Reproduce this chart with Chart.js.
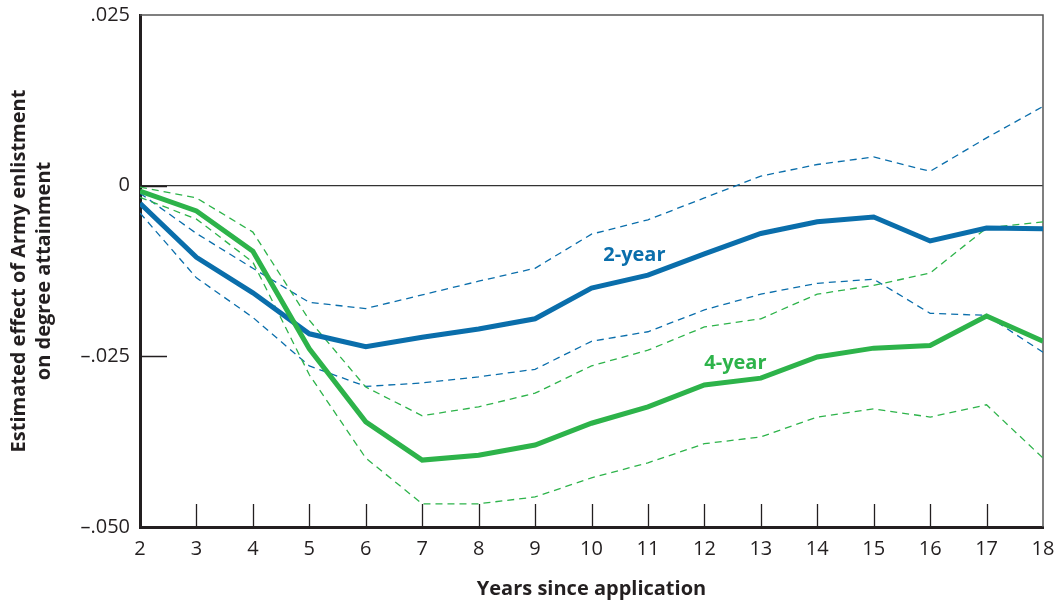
<!DOCTYPE html>
<html>
<head>
<meta charset="utf-8">
<script src="https://cdn.jsdelivr.net/npm/chart.js@4/dist/chart.umd.min.js"></script>
<style>
  html, body { margin: 0; padding: 0; background: #fff; }
  #wrap { width: 1056px; height: 601px; position: relative; }
</style>
</head>
<body>
<div id="wrap"><canvas id="chart"></canvas></div>
<script>
// years since application
const years = [2, 3, 4, 5, 6, 7, 8, 9, 10, 11, 12, 13, 14, 15, 16, 17, 18];

// 2-year degree: estimate and confidence band
const twoYear      = [-0.0026, -0.0105, -0.0157, -0.0217, -0.0236, -0.0222, -0.0210, -0.0195, -0.0150, -0.0131, -0.0100, -0.0070, -0.0053, -0.0046, -0.0081, -0.0062, -0.0063];
const twoYearUpper = [-0.0011, -0.0070, -0.0121, -0.0171, -0.0180, -0.0160, -0.0140, -0.0121, -0.0071, -0.0050, -0.0018, 0.0014, 0.0031, 0.0042, 0.0021, 0.0070, 0.0116];
const twoYearLower = [-0.0040, -0.0135, -0.0193, -0.0264, -0.0294, -0.0289, -0.0280, -0.0269, -0.0228, -0.0214, -0.0182, -0.0159, -0.0143, -0.0137, -0.0187, -0.0190, -0.0244];

// 4-year degree: estimate and confidence band
const fourYear      = [-0.0008, -0.0037, -0.0096, -0.0239, -0.0346, -0.0402, -0.0395, -0.0380, -0.0348, -0.0324, -0.0292, -0.0282, -0.0251, -0.0238, -0.0234, -0.0191, -0.0228];
const fourYearUpper = [-0.0002, -0.0018, -0.0068, -0.0197, -0.0295, -0.0337, -0.0324, -0.0304, -0.0264, -0.0241, -0.0207, -0.0195, -0.0159, -0.0146, -0.0128, -0.0062, -0.0053];
const fourYearLower = [-0.0017, -0.0049, -0.0112, -0.0277, -0.0399, -0.0466, -0.0466, -0.0456, -0.0428, -0.0406, -0.0378, -0.0368, -0.0339, -0.0327, -0.0339, -0.0321, -0.0399];

// y axis ticks
const yTickValues = [-0.05, -0.025, 0, 0.025];
const yTickLabels = ['–.050', '–.025', '0', '.025'];

// series labels placed on the plot (x in years, y in effect units)
const seriesLabels = [
  { text: '2-year', x: 10.76, y: -0.0102, color: '#0a6eab' },
  { text: '4-year', x: 12.55, y: -0.0260, color: '#2db34a' }
];

const BLUE = '#0a6eab';
const GREEN = '#2db34a';
const INK = '#231f20';

const pts = arr => arr.map((v, i) => ({ x: years[i], y: v }));

const mainLine = (label, data, color) => ({
  label, data: pts(data), borderColor: color, borderWidth: 5,
  pointRadius: 0, tension: 0, order: 0, borderJoinStyle: 'miter'
});
const bandLine = (label, data, color) => ({
  label, data: pts(data), borderColor: color, borderWidth: 1.3,
  borderDash: [7, 5], pointRadius: 0, tension: 0, order: 1
});

// keep the plot box fixed: no extra room for overhanging tick labels
const noOverhang = s => {
  s.paddingLeft = 0; s.paddingRight = 0; s.paddingTop = 0; s.paddingBottom = 0;
};

// inward tick marks, frame and in-plot series labels
const decorations = {
  id: 'decorations',
  beforeDatasetsDraw(chart) {
    const { ctx, chartArea: a, scales: { x, y } } = chart;
    ctx.save();
    ctx.strokeStyle = '#555';
    ctx.lineWidth = 1.5;
    ctx.beginPath();
    ctx.moveTo(a.left, a.top);
    ctx.lineTo(a.right, a.top);
    ctx.lineTo(a.right, a.bottom);
    ctx.stroke();

    ctx.strokeStyle = INK;
    ctx.lineWidth = 1.3;
    ctx.beginPath();
    years.slice(1, -1).forEach(yr => {
      const px = Math.round(x.getPixelForValue(yr)) + 0.5;
      ctx.moveTo(px, a.bottom);
      ctx.lineTo(px, a.bottom - 23);
    });
    yTickValues.slice(1, -1).forEach(v => {
      const py = Math.round(y.getPixelForValue(v)) + 0.5;
      ctx.moveTo(a.left, py);
      ctx.lineTo(a.left + 27, py);
    });
    ctx.stroke();
    ctx.restore();
  },
  afterDatasetsDraw(chart) {
    const { ctx, scales: { x, y } } = chart;
    ctx.save();
    ctx.font = 'bold 20px "Open Sans"';
    ctx.textAlign = 'center';
    ctx.textBaseline = 'middle';
    seriesLabels.forEach(l => {
      ctx.fillStyle = l.color;
      ctx.fillText(l.text, x.getPixelForValue(l.x), y.getPixelForValue(l.y));
    });
    ctx.restore();
  }
};

new Chart(document.getElementById('chart'), {
  type: 'line',
  data: {
    datasets: [
      mainLine('4-year', fourYear, GREEN),
      mainLine('2-year', twoYear, BLUE),
      bandLine('4-year upper', fourYearUpper, GREEN),
      bandLine('4-year lower', fourYearLower, GREEN),
      bandLine('2-year upper', twoYearUpper, BLUE),
      bandLine('2-year lower', twoYearLower, BLUE)
    ]
  },
  options: {
    responsive: true,
    maintainAspectRatio: false,
    animation: false,
    layout: { padding: { top: 15, right: 13, left: 0, bottom: 0 } },
    plugins: {
      legend: { display: false },
      tooltip: { enabled: false }
    },
    scales: {
      x: {
        type: 'linear',
        min: 2,
        max: 18,
        afterFit: s => { s.height = 74; noOverhang(s); },
        ticks: {
          stepSize: 1,
          padding: 10,
          color: INK,
          font: { family: 'Open Sans', size: 20 },
          maxRotation: 0
        },
        grid: { display: false, drawTicks: false },
        border: { color: INK, width: 3 },
        title: {
          display: true,
          text: 'Years since application',
          color: INK,
          font: { family: 'Open Sans', size: 20, weight: 'bold', lineHeight: 1.2 },
          padding: { top: 0, bottom: 0 }
        }
      },
      y: {
        min: -0.05,
        max: 0.025,
        afterFit: s => { s.width = 140; noOverhang(s); },
        afterBuildTicks: s => { s.ticks = yTickValues.map(v => ({ value: v })); },
        ticks: {
          padding: 10,
          color: INK,
          font: { family: 'Open Sans', size: 20 },
          callback: v => {
            const i = yTickValues.findIndex(t => Math.abs(t - v) < 1e-9);
            return i >= 0 ? yTickLabels[i] : '';
          }
        },
        grid: {
          drawTicks: false,
          lineWidth: 1.3,
          color: c => (c.tick && Math.abs(c.tick.value) < 1e-9 ? '#333' : 'rgba(0,0,0,0)')
        },
        border: { color: INK, width: 3 },
        title: {
          display: true,
          text: ['Estimated effect of Army enlistment', 'on degree attainment'],
          color: INK,
          font: { family: 'Open Sans', size: 20, weight: 'bold', lineHeight: 1.25 },
          padding: { top: 7, bottom: 0 }
        }
      }
    }
  },
  plugins: [decorations]
});
</script>
</body>
</html>
